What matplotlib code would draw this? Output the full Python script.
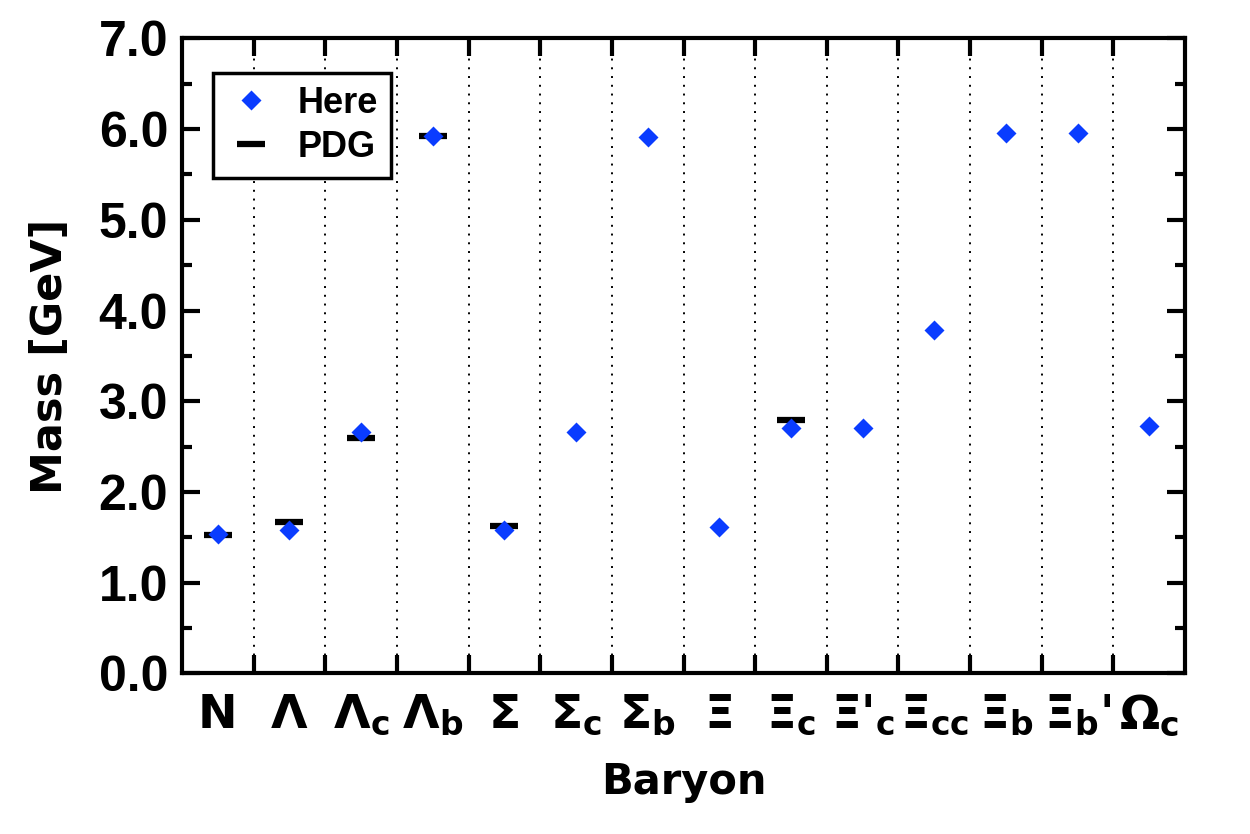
import numpy as np
import matplotlib
matplotlib.use("Agg")
import matplotlib.pyplot as plt
from matplotlib.ticker import MultipleLocator, FixedLocator, NullFormatter

baryons = ["N", "Λ", "Λ$_\\mathregular{c}$", "Λ$_\\mathregular{b}$", "Σ", "Σ$_\\mathregular{c}$",
           "Σ$_\\mathregular{b}$", "Ξ", "Ξ$_\\mathregular{c}$", "Ξ'$_\\mathregular{c}$",
           "Ξ$_\\mathregular{cc}$", "Ξ$_\\mathregular{b}$", "Ξ$_\\mathregular{b}$'", "Ω$_\\mathregular{c}$"]
here = [1.54, 1.58, 2.66, 5.92, 1.58, 2.66, 5.91, 1.61, 2.71, 2.71, 3.79, 5.96, 5.96, 2.73]
pdg = [1.53, 1.67, 2.60, 5.92, 1.62, np.nan, np.nan, np.nan, 2.79, np.nan, np.nan, np.nan, np.nan, np.nan]

x = np.arange(len(baryons))

fig = plt.figure(figsize=(12.5, 8.34), dpi=100)
ax = fig.add_axes([0.1456, 0.1925, 0.8024, 0.7615])

p_pdg, = ax.plot(x, pdg, ls="none", marker="_", ms=20, mew=4.5, color="black", label="PDG", zorder=3)
p_here, = ax.plot(x, here, ls="none", marker="D", ms=10.5, color="#0a3cff", mec="none", label="Here", zorder=4)

ax.set_xlim(-0.5, len(baryons) - 0.5)
ax.set_ylim(0, 7)

ax.xaxis.set_major_locator(FixedLocator(x))
ax.set_xticklabels(baryons, fontfamily="DejaVu Sans", fontweight="bold", fontsize=34)
ax.xaxis.set_minor_locator(FixedLocator(x[:-1] + 0.5))
ax.xaxis.set_minor_formatter(NullFormatter())
ax.set_yticks(np.arange(0, 7.5, 1.0))
ax.yaxis.set_minor_locator(MultipleLocator(0.5))
ax.set_yticklabels([f"{v:.1f}" for v in np.arange(0, 7.5, 1.0)],
                   fontfamily="Liberation Sans", fontweight="bold", fontsize=36)

ax.tick_params(axis="x", which="major", length=0, pad=14)
ax.tick_params(axis="x", which="minor", direction="in", length=13, width=3, top=True, bottom=True)
ax.tick_params(axis="y", which="major", direction="in", length=13, width=3, left=True, right=True, pad=10)
ax.tick_params(axis="y", which="minor", direction="in", length=7, width=3, left=True, right=True)

ax.grid(True, axis="x", which="minor", color="black", lw=1.4, ls=(0, (1, 3.5)))

for s in ax.spines.values():
    s.set_linewidth(3)

ax.set_xlabel("Baryon", fontfamily="DejaVu Sans", fontweight="bold", fontsize=30, labelpad=16)
ax.set_ylabel("Mass [GeV]", fontfamily="DejaVu Sans", fontweight="bold", fontsize=31, labelpad=20)

leg = ax.legend(handles=[p_here, p_pdg], loc="upper left", bbox_to_anchor=(0.031, 0.945),
                borderaxespad=0, fancybox=False, framealpha=1, edgecolor="black",
                prop={"family": "Liberation Sans", "weight": "bold", "size": 26},
                handlelength=1.4, handletextpad=0.6, borderpad=0.35, labelspacing=0.25)
leg.get_frame().set_linewidth(2.5)

fig.savefig("out.png", dpi=100)
